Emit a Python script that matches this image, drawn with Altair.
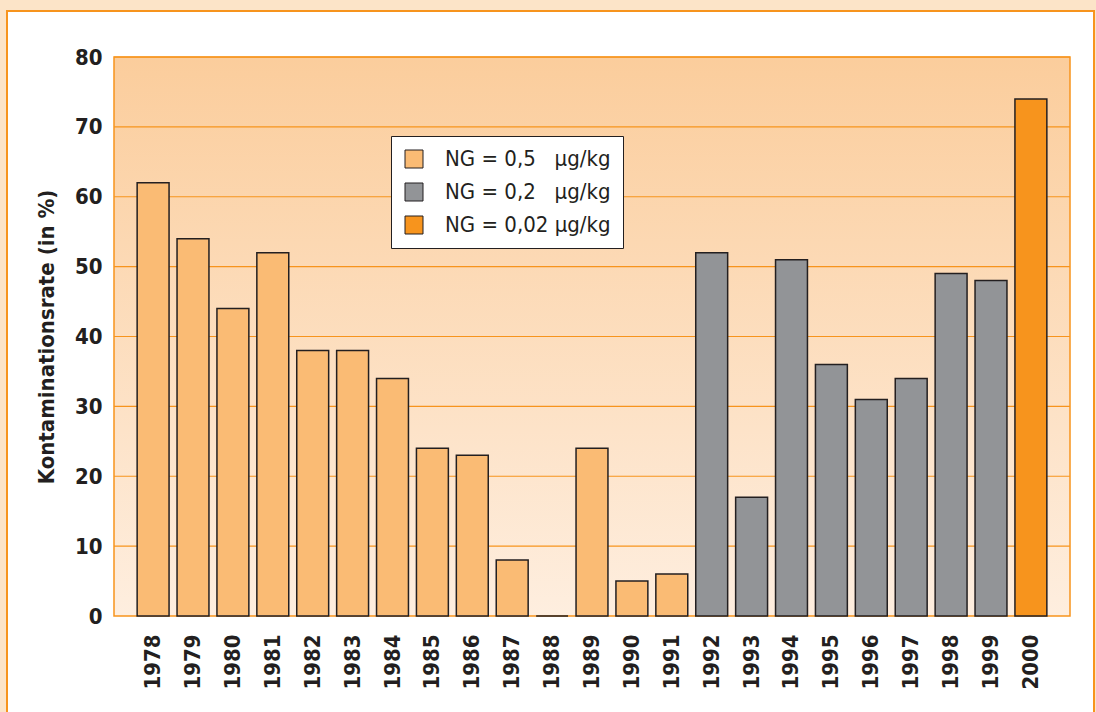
import altair as alt
import pandas as pd

years = [str(y) for y in range(1978, 2001)]
values = [62, 54, 44, 52, 38, 38, 34, 24, 23, 8, 0, 24, 5, 6, 52, 17, 51, 36, 31, 34, 49, 48, 74]
labels = ["NG = 0,5\u00a0\u00a0\u00a0μg/kg", "NG = 0,2\u00a0\u00a0\u00a0μg/kg", "NG = 0,02 μg/kg"]
groups = [labels[0]] * 14 + [labels[1]] * 8 + [labels[2]]
colors = ["#FABB74", "#929497", "#F7941D"]
grid_values = [10, 20, 30, 40, 50, 60, 70, 80]

W, H = 956, 559
FONT = "DejaVu Sans Condensed"
ORANGE = "#F7941D"

df = pd.DataFrame({"year": years, "value": values, "NG": groups})
grid_df = pd.DataFrame({"value": grid_values})
one = pd.DataFrame({"a": [0]})

yscale = alt.Scale(domain=[0, 80], nice=False)
yaxis = alt.Axis(values=[0, 10, 20, 30, 40, 50, 60, 70, 80], grid=False, ticks=False, domain=False,
                 labelFont=FONT, labelFontWeight="bold", labelFontSize=22, labelColor="#231F20",
                 labelPadding=12, title="Kontaminationsrate (in %)", titleFont=FONT,
                 titleFontWeight="bold", titleFontSize=22, titleColor="#231F20", titlePadding=16,
                 zindex=2)

panel = alt.Chart(one).mark_rect(fill="white", stroke=ORANGE, strokeWidth=2).encode(
    x=alt.value(-107), x2=alt.value(980), y=alt.value(-46), y2=alt.value(720))

bg = alt.Chart(one).mark_rect(
    fill=alt.Gradient(gradient="linear",
                      stops=[alt.GradientStop(color="#FBCD9C", offset=0),
                             alt.GradientStop(color="#FEEEDF", offset=1)],
                      x1=0, x2=0, y1=0, y2=1),
    stroke=ORANGE, strokeWidth=1.5).encode(
    x=alt.value(0), x2=alt.value(W), y=alt.value(0), y2=alt.value(H))

grid = alt.Chart(grid_df).mark_rule(color=ORANGE, strokeWidth=1.2).encode(
    y=alt.Y("value:Q", scale=yscale, axis=yaxis),
    x=alt.value(0), x2=alt.value(W))

bars = alt.Chart(df).mark_bar(stroke="#231F20", strokeWidth=1.5).encode(
    x=alt.X("year:N", sort=years,
            scale=alt.Scale(paddingInner=0.2, paddingOuter=0.58),
            axis=alt.Axis(labelAngle=-90, ticks=False, domain=False, grid=False,
                          labelFont=FONT, labelFontWeight="bold", labelFontSize=22,
                          labelColor="#231F20", labelPadding=18, title=None, zindex=2)),
    y=alt.Y("value:Q", scale=yscale, axis=yaxis),
    color=alt.Color("NG:N", scale=alt.Scale(domain=labels, range=colors),
                    legend=alt.Legend(orient="none", legendX=277, legendY=79, title=None,
                                      fillColor="white", strokeColor="#231F20",
                                      padding=12, symbolType="square", symbolSize=324,
                                      symbolStrokeColor="#231F20", symbolStrokeWidth=1,
                                      symbolOpacity=1,
                                      labelFont=FONT, labelFontSize=22, labelColor="#231F20",
                                      labelOffset=20, rowPadding=11, labelLimit=400)),
)

chart = alt.layer(panel, bg, grid, bars).properties(
    width=W, height=H, background="#FCE4C8",
    padding={"left": 114, "top": 57, "right": 26, "bottom": 96},
    autosize=alt.AutoSizeParams(type="none"),
).configure_view(stroke=None)

chart.save("out.html", embed_options={"renderer": "svg", "actions": False})
